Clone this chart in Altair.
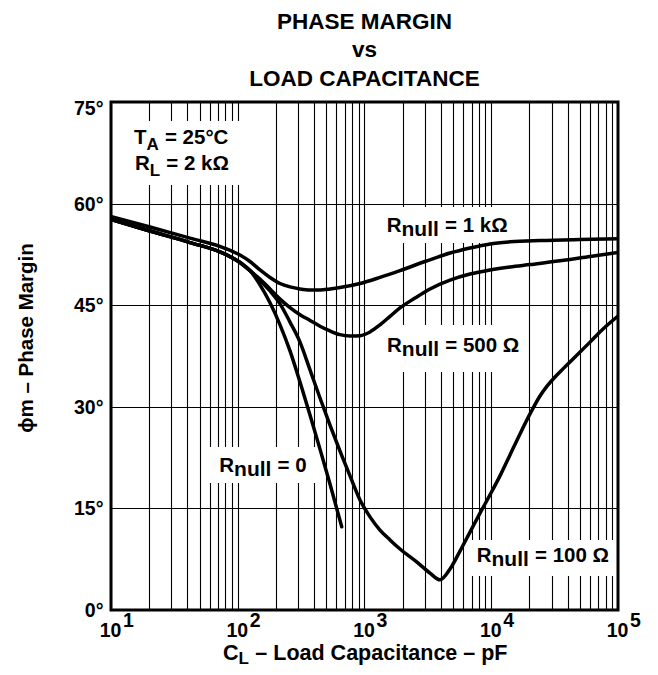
import altair as alt
import pandas as pd

# ---------------- values (pF, degrees) ----------------
C_1K = [10, 20.3, 42.0, 79.3, 104.2, 124.9, 149.8, 179.7, 215.5, 258.4, 309.9, 371.5, 445.6, 534.3,
        640.9, 921.5, 1325, 1906, 3001, 4727, 6798, 9773, 14060, 24240, 50150, 100000]
PM_1K = [58.1, 56.55, 54.9, 53.4, 52.4, 51.45, 50.2, 49.1, 48.2, 47.7, 47.4, 47.25, 47.25, 47.4,
         47.6, 48.2, 49.1, 50.1, 51.45, 52.7, 53.45, 54.05, 54.35, 54.55, 54.7, 54.8]

C_500 = [10, 20.3, 42.0, 79.3, 104.2, 124.9, 149.8, 179.7, 215.5, 258.4, 309.9, 371.5, 445.6, 534.3,
         640.9, 768.6, 921.5, 1105, 1325, 1589, 1906, 2502, 3287, 4727, 6798, 9773, 14060, 20220,
         34860, 60140, 100000]
PM_500 = [57.65, 55.95, 54.25, 52.55, 51.3, 50.1, 48.85, 47.4, 45.9, 44.65, 43.6, 42.75, 41.9, 41.2,
          40.65, 40.45, 40.5, 41.05, 42.1, 43.35, 44.6, 46.05, 47.4, 48.7, 49.6, 50.2, 50.65, 51.0,
          51.55, 52.2, 52.8]

C_100 = [10, 20.3, 42.0, 79.3, 104.2, 124.9, 149.8, 179.7, 215.5, 258.4, 309.9, 371.5, 445.6, 534.3,
         640.9, 768.6, 921.5, 1105, 1325, 1589, 1906, 2581, 3287, 3942, 4727, 5668, 6798, 8151,
         9773, 11720, 14060, 16860, 20220, 24240, 27540, 31840, 36820, 44160, 60140, 74780, 100000]
PM_100 = [57.65, 55.95, 54.25, 52.55, 51.3, 50.1, 48.65, 47.1, 45.2, 42.5, 39.55, 35.45, 31.3, 27.3,
          23.45, 19.8, 16.25, 13.75, 11.8, 10.35, 9.0, 7.1, 5.45, 4.45, 6.05, 8.7, 11.5, 14.3,
          17.0, 19.8, 22.9, 26.0, 28.95, 31.6, 33.05, 34.4, 35.6, 37.05, 39.55, 41.35, 43.4]

C_0 = [10, 20.3, 42.0, 79.3, 104.2, 124.9, 149.8, 179.7, 215.5, 258.4, 309.9, 371.5, 445.6, 534.3, 661]
PM_0 = [57.65, 55.95, 54.25, 52.55, 51.3, 50.1, 48.0, 45.35, 42.1, 38.25, 33.65, 28.8, 23.75, 18.6, 12.3]

Y_TICKS = [0, 15, 30, 45, 60, 75]
X_DECADES = [1, 2, 3, 4, 5]
X_GRID = [m * 10 ** k for k in range(1, 5) for m in range(1, 10)] + [100000]

TITLE_LINES = ["PHASE MARGIN", "vs", "LOAD CAPACITANCE"]
Y_TITLE = "\u03d5m \u2013 Phase Margin"
X_TITLE = ("C", "L", "\u2013 Load Capacitance \u2013 pF")
LABELS = [
    ("T", "A", "= 25\u00b0C"),
    ("R", "L", "= 2 k\u03a9"),
    ("R", "null", "= 1 k\u03a9"),
    ("R", "null", "= 500 \u03a9"),
    ("R", "null", "= 0"),
    ("R", "null", "= 100 \u03a9"),
]

# ---------------- layout ----------------
W, H = 507, 508
PX_DEC = W / 4
PX_DEG = H / 75
X0, Y0 = 111, 102  # plot origin on the page
FONT = "Liberation Sans"

ADV = {' ': .278, '=': .584, 'k': .556, '\u03a9': .768, '\u00b0': .4, 'C': .722, 'R': .722,
       'T': .611, 'A': .722, 'L': .611, 'n': .611, 'u': .611, 'l': .278}


def width(s, fs):
    return sum(ADV.get(ch, .556) for ch in s) * fs


def at(px, py):
    return 10 ** (1 + (px - X0) / PX_DEC), (Y0 + H - py) / PX_DEG


rows = []


def add(px, py, text, size, align="left", kind="t"):
    c, d = at(px, py)
    rows.append(dict(C=c, deg=d, text=text, size=size, al=align, kind=kind))


def pieces(px, py, parts, fs, sub_fs, sub_dy):
    main, sub, rest = parts
    add(px, py, main, fs)
    x2 = px + width(main, fs)
    add(x2, py + sub_dy, sub, sub_fs)
    add(x2 + width(sub, sub_fs) + 0.3 * fs, py, rest, fs)


for line, by in zip(TITLE_LINES, [29, 56.5, 85.5]):
    add(X0 + W / 2, by, line, 22.5, "center")

LAB_POS = [(134, 143.5, 17, 6), (135, 170, 17, 6), (386.7, 231.7, 21, 4.5),
           (387, 351.7, 21, 4.5), (219.3, 471.7, 21, 4.5), (476.7, 561.7, 21, 4.5)]
for parts, (px, py, sfs, sdy) in zip(LABELS, LAB_POS):
    pieces(px, py, parts, 20.5, sfs, sdy)

pieces(223, 659.5, X_TITLE, 21.5, 17, 4)
add(33, 338, Y_TITLE, 20.5, "center", "ytitle")

for v in Y_TICKS:
    add(103.5, Y0 + H - v * PX_DEG + (12.5 if v == 75 else 7), f"{v}\u00b0", 19.5, "right")
for k in X_DECADES:
    px = X0 + (k - 1) * PX_DEC
    add(px - 0.5, 636.7, "10", 19.5, "center")
    add(px + 12, 626.7, str(k), 19.5, "left")

texts = pd.DataFrame(rows)

# white boxes behind labels (page px -> data)
BOX_PX = [(116, 121, 245, 185), (380, 207, 515, 243), (380, 325, 515, 372),
          (207, 447, 318, 483), (465, 540, 616, 576)]
boxes = []
for (a, b, c, d) in BOX_PX:
    c0, d0 = at(a, b)
    c1, d1 = at(c, d)
    boxes.append(dict(C=c0, C2=c1, deg=d0, deg2=d1))
boxes = pd.DataFrame(boxes)

curves = pd.concat([
    pd.DataFrame({"C": C_1K, "deg": PM_1K, "s": "1k"}),
    pd.DataFrame({"C": C_500, "deg": PM_500, "s": "500"}),
    pd.DataFrame({"C": C_100, "deg": PM_100, "s": "100"}),
    pd.DataFrame({"C": C_0, "deg": PM_0, "s": "0"}),
])

xs = alt.Scale(type="log", domain=[10, 100000], nice=False)
ys = alt.Scale(domain=[0, 75], nice=False, zero=False)

box_layer = alt.Chart(boxes).mark_rect(fill="white").encode(
    x=alt.X("C:Q", scale=xs, axis=alt.Axis(values=X_GRID, grid=True, labels=False, ticks=False,
                                            domain=False, title=None, gridColor="black",
                                            gridWidth=1.1, gridOpacity=1)),
    x2="C2:Q",
    y=alt.Y("deg:Q", scale=ys, axis=alt.Axis(values=Y_TICKS, grid=True, labels=False, ticks=False,
                                              domain=False, title=None, gridColor="black",
                                              gridWidth=1.1, gridOpacity=1)),
    y2="deg2:Q",
)

line_layer = alt.Chart(curves).mark_line(color="black", strokeWidth=3.5, interpolate="monotone",
                                         strokeCap="round", clip=True).encode(
    x="C:Q", y="deg:Q", detail="s:N"
)

text_layers = []
for al in ["left", "center", "right"]:
    sub = texts[(texts["al"] == al) & (texts["kind"] == "t")]
    text_layers.append(
        alt.Chart(sub).mark_text(align=al, baseline="alphabetic", font=FONT, fontWeight="bold",
                                 color="black").encode(
            x="C:Q", y="deg:Q", text="text:N", size=alt.Size("size:Q", scale=None)
        )
    )
ytitle = texts[texts["kind"] == "ytitle"]
text_layers.append(
    alt.Chart(ytitle).mark_text(align="center", baseline="alphabetic", angle=270, font=FONT,
                                fontWeight="bold", color="black").encode(
        x="C:Q", y="deg:Q", text="text:N", size=alt.Size("size:Q", scale=None)
    )
)

chart = alt.layer(box_layer, line_layer, *text_layers).properties(
    width=W, height=H, autosize="none",
    padding={"left": X0 - 8, "top": Y0 - 8, "right": 658 - 16 - (X0 - 8) - W,
             "bottom": 675 - 16 - (Y0 - 8) - H},
    background="white",
).configure_view(stroke="black", strokeWidth=3)

chart.save("out.html", embed_options={"renderer": "svg", "actions": False})
